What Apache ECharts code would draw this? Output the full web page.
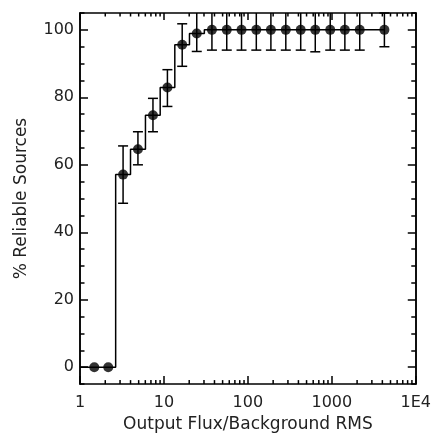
<!DOCTYPE html>
<html>
<head>
<meta charset="utf-8">
<script src="https://cdn.jsdelivr.net/npm/echarts@6/dist/echarts.min.js"></script>
<style>
html,body{margin:0;padding:0;background:#fff;}
#chart{width:434px;height:438px;}
</style>
</head>
<body>
<div id="chart"></div>
<script>
// ---- data ----
const fluxRatio = [1.48, 2.17, 3.26, 4.9, 7.4, 11.0, 16.5, 24.6, 37.3, 56, 84, 126, 188, 283, 426, 635, 957, 1430, 2150, 4230];
const reliablePct = [0, 0, 57.1, 64.6, 74.7, 82.9, 95.6, 98.9, 100, 100, 100, 100, 100, 100, 100, 100, 100, 100, 100, 100];
const errLow  = [0, 0, 48.6, 60.0, 69.8, 77.3, 89.2, 93.6, 94.0, 94.0, 94.0, 94.0, 94.0, 94.0, 94.0, 93.5, 94.0, 94.0, 94.0, 95.0];
const errHigh = [0, 0, 65.6, 69.8, 79.7, 88.2, 101.8, 105.5, 106, 106, 106, 106, 106, 106, 106, 106.5, 106, 106, 106, 105];
const stepLeftEdge = [1, 0];
const xTickValues = [1, 10, 100, 1000, 10000];
const xTickLabels = ['1', '10', '100', '1000', '1E4'];
const xMinorTicks = [2,3,4,5,6,7,8,9,20,30,40,50,60,70,80,90,200,300,400,500,600,700,800,900,2000,3000,4000,5000,6000,7000,8000,9000];
const yTickValues = [0, 20, 40, 60, 80, 100];

const FONT = 'DejaVu Sans';
const TXT = '#222';
const LW = 1.5;

const chart = echarts.init(document.getElementById('chart'), null, {renderer: 'canvas'});

const points = fluxRatio.map((x, i) => [x, reliablePct[i]]);
const lineData = [stepLeftEdge].concat(points);
const errData = fluxRatio.map((x, i) => [x, errLow[i], errHigh[i]]);

function xLabel(v) {
  for (let i = 0; i < xTickValues.length; i++) {
    if (Math.abs(v - xTickValues[i]) / xTickValues[i] < 1e-6) return xTickLabels[i];
  }
  return '';
}

const axisLineStyle = {show: true, onZero: false, lineStyle: {color: '#000', width: LW}};

const option = {
  animation: false,
  backgroundColor: '#fff',
  grid: {left: 80, right: 17, top: 13, bottom: 51},
  xAxis: [
    {
      type: 'log', logBase: 10, min: 1, max: 10000, position: 'bottom',
      axisLine: axisLineStyle,
      axisTick: {show: true, inside: true, length: 8, lineStyle: {color: '#000', width: LW}},
      splitLine: {show: false},
      axisLabel: {color: TXT, fontFamily: FONT, fontSize: 16, margin: 11, formatter: xLabel},
      name: 'Output Flux/Background RMS', nameLocation: 'middle', nameGap: 31,
      nameTextStyle: {color: TXT, fontFamily: FONT, fontSize: 17}
    },
    {
      type: 'log', logBase: 10, min: 1, max: 10000, position: 'top',
      axisLine: axisLineStyle,
      axisTick: {show: true, inside: true, length: 7, lineStyle: {color: '#000', width: LW}},
      splitLine: {show: false},
      axisLabel: {show: false}
    }
  ],
  yAxis: [
    {
      type: 'value', min: -5, max: 105, interval: 5, position: 'left',
      axisLine: axisLineStyle,
      axisTick: {show: true, inside: true, length: 4.5, lineStyle: {color: '#000', width: LW}},
      splitLine: {show: false},
      axisLabel: {color: TXT, fontFamily: FONT, fontSize: 16, margin: 6,
        formatter: v => (yTickValues.indexOf(v) >= 0 ? String(v) : '')},
      name: '% Reliable Sources', nameLocation: 'middle', nameGap: 50,
      nameTextStyle: {color: TXT, fontFamily: FONT, fontSize: 17}
    },
    {
      type: 'value', min: -5, max: 105, position: 'left',
      axisLine: axisLineStyle,
      axisTick: {show: true, inside: true, length: 8, customValues: yTickValues, lineStyle: {color: '#000', width: LW}},
      splitLine: {show: false},
      axisLabel: {show: false}
    },
    {
      type: 'value', min: -5, max: 105, interval: 5, position: 'right',
      axisLine: axisLineStyle,
      axisTick: {show: true, inside: true, length: 4.5, lineStyle: {color: '#000', width: LW}},
      splitLine: {show: false},
      axisLabel: {show: false}
    },
    {
      type: 'value', min: -5, max: 105, position: 'right',
      axisLine: axisLineStyle,
      axisTick: {show: true, inside: true, length: 8, customValues: yTickValues, lineStyle: {color: '#000', width: LW}},
      splitLine: {show: false},
      axisLabel: {show: false}
    }
  ],
  series: [
    {
      type: 'line', data: lineData, step: 'middle', showSymbol: false, symbol: 'none',
      lineStyle: {color: '#000', width: LW}, z: 2, silent: true
    },
    {
      type: 'custom', data: errData, encode: {x: 0, y: [1, 2]}, z: 3, silent: true,
      renderItem: function (params, api) {
        const x = api.value(0), lo = api.value(1), hi = api.value(2);
        if (hi === lo) return null;
        const cs = params.coordSys;
        const top = cs.y, bottom = cs.y + cs.height;
        const pLo = api.coord([x, lo]);
        const pHi = api.coord([x, hi]);
        const y1 = Math.min(pLo[1], bottom), y2 = Math.max(pHi[1], top);
        const st = {stroke: '#000', lineWidth: LW};
        const hw = 5;
        const ch = [{type: 'line', shape: {x1: pLo[0], y1: y1, x2: pLo[0], y2: y2}, style: st}];
        if (pLo[1] <= bottom) ch.push({type: 'line', shape: {x1: pLo[0] - hw, y1: pLo[1], x2: pLo[0] + hw, y2: pLo[1]}, style: st});
        if (pHi[1] >= top) ch.push({type: 'line', shape: {x1: pHi[0] - hw, y1: pHi[1], x2: pHi[0] + hw, y2: pHi[1]}, style: st});
        return {type: 'group', children: ch};
      }
    },
    {
      type: 'scatter', data: points, symbol: 'circle', symbolSize: 10,
      itemStyle: {color: '#000'}, z: 4, silent: true
    },
    {
      type: 'custom', data: xMinorTicks.map(v => [v, 0]), encode: {x: 0, y: 1}, z: 5, silent: true,
      renderItem: function (params, api) {
        const cs = params.coordSys;
        const px = api.coord([api.value(0), 0])[0];
        const st = {stroke: '#000', lineWidth: LW};
        const len = 4;
        return {type: 'group', children: [
          {type: 'line', shape: {x1: px, y1: cs.y + cs.height, x2: px, y2: cs.y + cs.height - len}, style: st},
          {type: 'line', shape: {x1: px, y1: cs.y, x2: px, y2: cs.y + len - 0.5}, style: st}
        ]};
      }
    }
  ]
};
chart.setOption(option);
</script>
</body>
</html>
